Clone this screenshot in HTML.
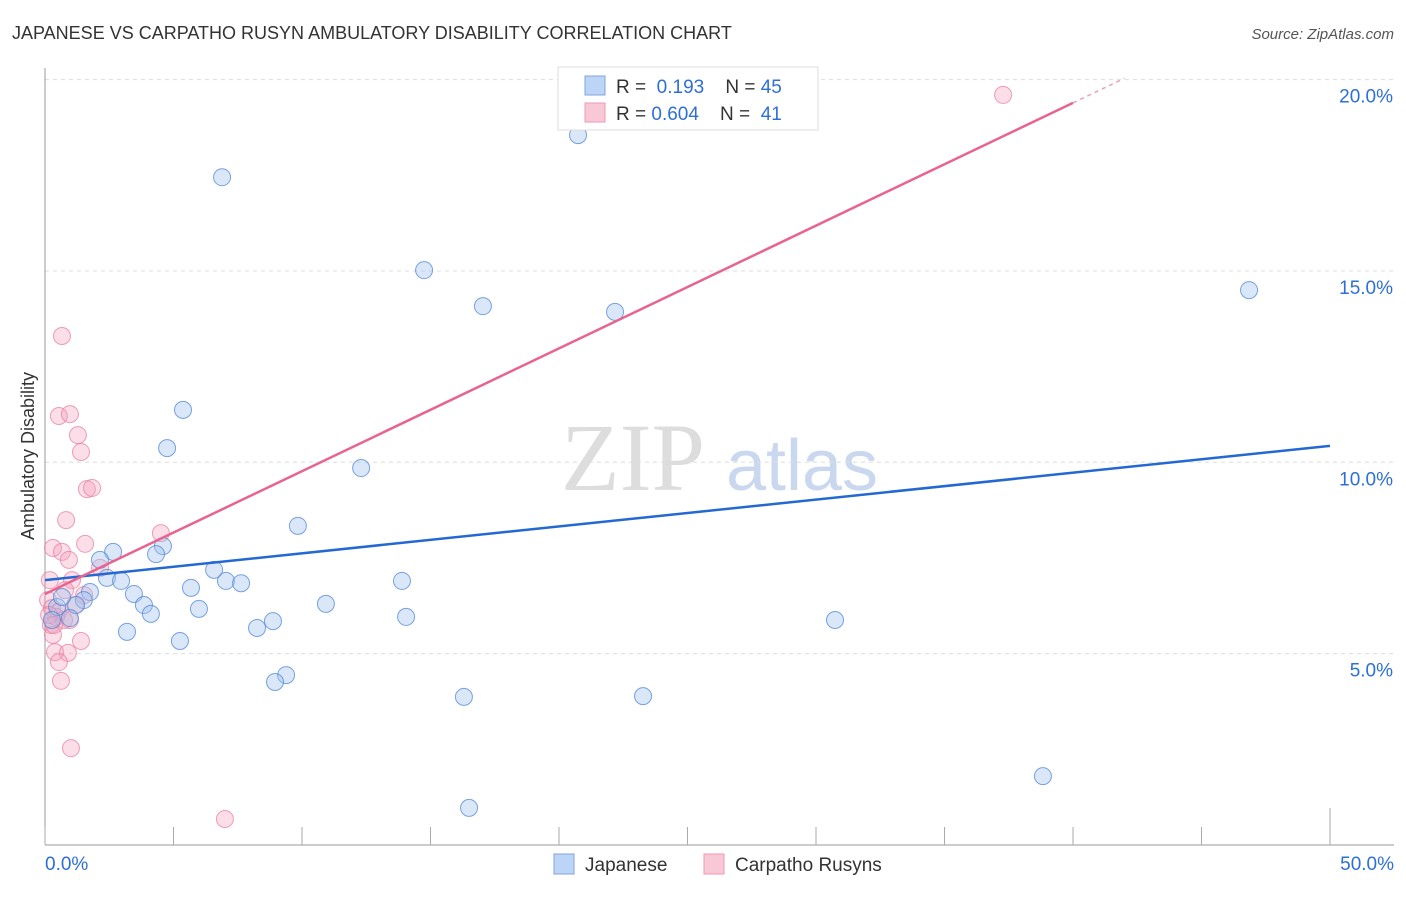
<!DOCTYPE html>
<html><head><meta charset="utf-8"><style>
body{margin:0;background:#fff;font-family:"Liberation Sans",sans-serif}
</style></head><body>
<svg id="chart" width="1406" height="892" xmlns="http://www.w3.org/2000/svg" font-family="Liberation Sans, sans-serif">
<text x="12" y="39" font-size="18" fill="#333">JAPANESE VS CARPATHO RUSYN AMBULATORY DISABILITY CORRELATION CHART</text>
<text x="1394" y="39" font-size="15" fill="#555" text-anchor="end" font-style="italic">Source: ZipAtlas.com</text>
<g>
<text x="633" y="490" font-size="96" fill="#ddd" font-family="Liberation Serif, serif" text-anchor="middle">ZIP</text>
<text x="802" y="490" font-size="72" fill="#c9d8ef" text-anchor="middle">atlas</text>
</g>
<g id="grid"></g>
<g id="axes"></g>
<g id="marks"></g>
<text transform="translate(34,456) rotate(-90)" font-size="18" fill="#333" text-anchor="middle">Ambulatory Disability</text>
<g>
<rect x="558" y="67" width="260" height="63" fill="#fff" stroke="#ddd"/>
<rect x="585" y="76" width="20" height="19" fill="#bcd4f5" stroke="#7ea6e0"/>
<rect x="585" y="103" width="20" height="19" fill="#f9c8d6" stroke="#ee9ab4"/>
<text x="616" y="93" font-size="19" fill="#333">R = <tspan fill="#2e6fd6">&#160;0.193</tspan>&#160;&#160;&#160;&#160;N = <tspan fill="#2e6fd6">45</tspan></text>
<text x="616" y="120" font-size="19" fill="#333">R = <tspan fill="#2e6fd6">0.604</tspan>&#160;&#160;&#160;&#160;N = <tspan fill="#2e6fd6">&#160;41</tspan></text>
</g>
<g>
<rect x="554" y="854" width="20" height="20" fill="#bcd4f5" stroke="#7ea6e0"/>
<text x="585" y="871" font-size="19" fill="#333">Japanese</text>
<rect x="704" y="854" width="20" height="20" fill="#f9c8d6" stroke="#ee9ab4"/>
<text x="735" y="871" font-size="19" fill="#333">Carpatho Rusyns</text>
</g>
</svg>
<script>
const jpX=[20.74,6.89,14.75,17.04,22.18,46.85,5.37,4.75,12.30,9.84,4.59,4.32,2.65,2.14,2.41,2.96,6.58,7.04,7.63,5.68,3.46,1.75,1.51,1.21,3.85,4.12,5.99,10.93,13.89,14.05,8.87,8.25,3.19,0.97,0.47,0.27,5.25,9.38,8.95,16.30,23.27,30.74,38.83,16.50,0.66];
const jpY=[18.55,17.45,15.02,14.08,13.93,14.50,11.37,10.37,9.85,8.34,7.81,7.60,7.66,7.45,6.98,6.90,7.19,6.90,6.84,6.72,6.56,6.61,6.40,6.27,6.27,6.04,6.17,6.30,6.90,5.96,5.85,5.67,5.57,5.93,6.22,5.88,5.33,4.44,4.26,3.87,3.89,5.88,1.80,0.97,6.48];
const crX=[37.28,0.66,0.54,0.97,1.28,1.40,1.63,1.83,0.82,1.56,4.51,0.31,0.66,0.93,2.14,1.05,0.19,0.78,0.12,1.52,0.27,0.51,0.97,0.23,0.43,0.74,0.31,1.40,0.39,0.89,0.54,0.62,1.01,7.00,1.17,0.16,0.35];
const crY=[19.60,13.30,11.21,11.26,10.71,10.27,9.30,9.33,8.49,7.87,8.15,7.76,7.66,7.45,7.24,6.92,6.92,6.66,6.40,6.53,6.19,6.09,5.88,5.75,5.96,5.88,5.49,5.33,5.04,5.02,4.78,4.29,2.53,0.68,6.27,6.01,5.75];
const yTicks=[5,10,15,20];
const yTickLabels=["5.0%","10.0%","15.0%","20.0%"];
const xTicks=[0,5,10,15,20,25,30,35,40,45,50];
const jpTrend=[6.92,10.43];
const crTrend=[6.56,0.3208,40,42];
const X=v=>45+25.7*v, Y=v=>845-38.27*v;
const NS="http://www.w3.org/2000/svg";
function mk(p,t,a){const e=document.createElementNS(NS,t);for(const k in a)e.setAttribute(k,a[k]);p.appendChild(e);return e;}
const grid=document.getElementById('grid'),axes=document.getElementById('axes'),marks=document.getElementById('marks');
yTicks.forEach((v,i)=>{
 const l=mk(grid,'line',{x1:45,x2:1394,y1:Y(v),y2:Y(v),stroke:'#ddd','stroke-dasharray':'4,4'});
 
 
 const t=mk(axes,'text',{x:1393,y:Y(v)+23,'font-size':19,fill:'#2e6fd6','text-anchor':'end'});t.textContent=yTickLabels[i];
 
 
});
const ya=mk(axes,'line',{x1:45,x2:45,y1:68,y2:845,stroke:'#999'});


const xa=mk(axes,'line',{x1:45,x2:1394,y1:845,y2:845,stroke:'#999'});


xTicks.forEach((v,i)=>{
 const l=mk(axes,'line',{x1:X(v),x2:X(v),y1:845,y2:(i==xTicks.length-1?808:827),stroke:'#aaa'});
 
 
});
const t0=mk(axes,'text',{x:45,y:870,'font-size':19,fill:'#2e6fd6'});t0.textContent='0.0%';


const t1=mk(axes,'text',{x:1394,y:870,'font-size':19,fill:'#2e6fd6','text-anchor':'end'});t1.textContent='50.0%';


crX.forEach((x,i)=>{const c=mk(marks,'circle',{cx:X(x),cy:Y(crY[i]),r:8.5,fill:'rgba(244,160,188,0.35)',stroke:'rgba(232,120,156,0.7)'});
 
 });
jpX.forEach((x,i)=>{const c=mk(marks,'circle',{cx:X(x),cy:Y(jpY[i]),r:8.5,fill:'rgba(160,196,240,0.4)',stroke:'rgba(80,134,210,0.75)'});
 
 });
const jl=mk(marks,'line',{x1:X(0),y1:Y(jpTrend[0]),x2:X(50),y2:Y(jpTrend[1]),stroke:'#2468d4','stroke-width':2.5});


const cl=mk(marks,'line',{x1:X(0),y1:Y(crTrend[0]),x2:X(crTrend[2]),y2:Y(crTrend[0]+crTrend[1]*crTrend[2]),stroke:'#e8648f','stroke-width':2.5});


const cd=mk(marks,'line',{x1:X(crTrend[2]),y1:Y(crTrend[0]+crTrend[1]*crTrend[2]),x2:X(crTrend[3]),y2:Y(crTrend[0]+crTrend[1]*crTrend[3]),stroke:'#e8a0b6','stroke-width':1.5,'stroke-dasharray':'4,4'});


</script>
</body></html>
